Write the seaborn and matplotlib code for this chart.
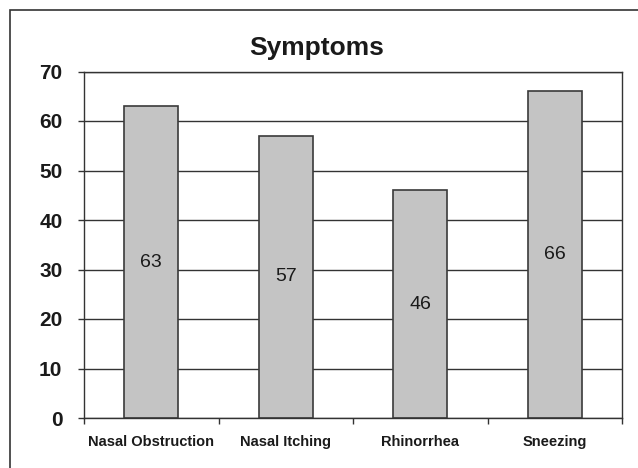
import pandas as pd
import seaborn as sns
import matplotlib.pyplot as plt
from matplotlib.patches import Rectangle

# dados do gráfico
sintomas = ['Nasal Obstruction', 'Nasal Itching', 'Rhinorrhea', 'Sneezing']
valores = [63, 57, 46, 66]
y_ticks = [0, 10, 20, 30, 40, 50, 60, 70]

dados = pd.DataFrame({'sintoma': sintomas, 'valor': valores})

sns.set_style('white')
plt.rcParams['font.family'] = ['Liberation Sans', 'DejaVu Sans']

fig = plt.figure(figsize=(6.38, 4.68), dpi=100)
ax = fig.add_axes([84 / 638, 1 - 418 / 468, (622 - 84) / 638, (418 - 71.5) / 468])

# moldura externa
fig.patches.append(Rectangle((10 / 638, -0.1), 1.2, 1 - 10 / 468 + 0.1,
                             transform=fig.transFigure, fill=False,
                             edgecolor='#333333', linewidth=1.2))

sns.barplot(data=dados, x='sintoma', y='valor', color='#c4c4c4',
            edgecolor='#3a3a3a', linewidth=1.2, width=0.4, saturation=1, ax=ax)

# rótulos no meio das barras
for i, v in enumerate(valores):
    ax.text(i, v / 2, str(v), ha='center', va='center', fontsize=14, color='#1a1a1a')

ax.set_ylim(0, 70)
ax.set_xlim(-0.5, 3.5)
ax.set_yticks(y_ticks)
ax.set_yticklabels([str(t) for t in y_ticks], fontsize=15, fontweight='bold', color='#1a1a1a')
ax.yaxis.grid(True, color='#333333', linewidth=1)
ax.set_axisbelow(True)

# ticks do eixo x nas divisões entre categorias
ax.set_xticks([-0.5, 0.5, 1.5, 2.5, 3.5])
ax.set_xticklabels([])
ax.set_xticks([0, 1, 2, 3], minor=True)
ax.set_xticklabels(sintomas, minor=True, fontsize=10.5, fontweight='bold', color='#1a1a1a')
ax.tick_params(axis='x', which='minor', length=0, pad=12)
ax.tick_params(axis='x', which='major', direction='out', length=4.5, width=1, color='#333333', bottom=True)
ax.tick_params(axis='y', direction='out', length=4.5, width=1, color='#333333', left=True, pad=11)

ax.set_xlabel('')
ax.set_ylabel('')
# título centrado na figura
fig.text(317 / 638, 1 - 55 / 468, 'Symptoms', ha='center', va='baseline',
         fontsize=19, fontweight='bold', color='#1a1a1a')

for s in ax.spines.values():
    s.set_color('#333333')
    s.set_linewidth(1)

plt.savefig('out.png', dpi=100)
